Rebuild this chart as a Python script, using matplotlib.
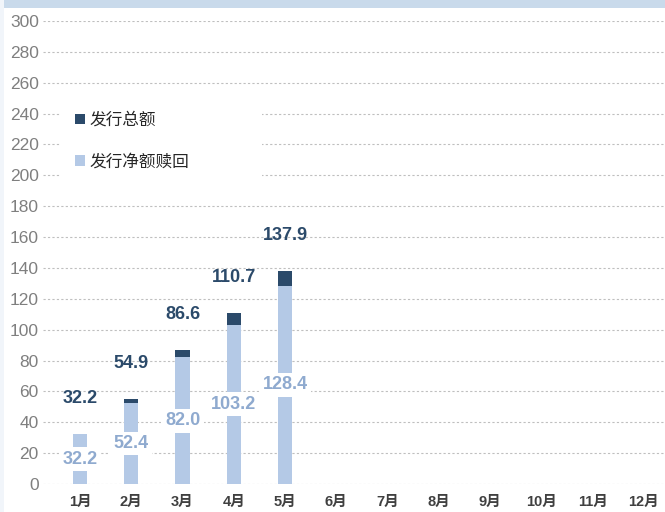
import matplotlib
matplotlib.use("Agg")
import matplotlib.pyplot as plt
from matplotlib.patches import Rectangle, Patch
import numpy as np

months = ["1月", "2月", "3月", "4月", "5月", "6月", "7月", "8月", "9月", "10月", "11月", "12月"]
total = [32.2, 54.9, 86.6, 110.7, 137.9]
net = [32.2, 52.4, 82.0, 103.2, 128.4]
legend_labels = ["发行总额", "发行净额赎回"]
yticks = list(range(0, 301, 20))

dark = "#2B4A6A"
light = "#B4C9E6"
light_txt = "#8FAACF"

fams = ["Liberation Sans", "Noto Sans CJK SC", "DejaVu Sans"]
plt.rcParams["font.family"] = fams

fig = plt.figure(figsize=(6.65, 5.12), dpi=100)
W, H = 665, 512
ax = fig.add_axes([43 / W, (512 - 484) / H, (665 - 43) / W, (484 - 21) / H])

# decorative bands
fig.patches.append(Rectangle((0, (512 - 8) / H), 1, 8 / H, transform=fig.transFigure,
                             facecolor="#C9DAEB", edgecolor="none", zorder=0))
fig.patches.append(Rectangle((0, 0), 4 / W, 1, transform=fig.transFigure,
                             facecolor="#F1F5FA", edgecolor="none", zorder=0))

x = np.arange(len(total))
bw = 0.28
ax.bar(x, total, width=bw, color=dark, zorder=3)
ax.bar(x, net, width=bw, color=light, zorder=4)

for xi, t, n in zip(x, total, net):
    ax.annotate(f"{t:.1f}", (xi, t), xytext=(0, 26), textcoords="offset points",
                ha="center", va="center", fontsize=13, fontweight="bold", color=dark, zorder=6)
    ax.text(xi, n / 2, f"{n:.1f}", ha="center", va="center", fontsize=13,
            fontweight="bold", color=light_txt, zorder=6,
            bbox=dict(facecolor="white", edgecolor="none", pad=2.5))

ax.set_xlim(-0.722, 11.41)
ax.set_ylim(0, 300)
ax.set_yticks(yticks)
ax.set_xticks(np.arange(len(months)))
ax.set_xticklabels(months, fontsize=10.5, fontweight="bold", color="#404040")
for s in ax.spines.values():
    s.set_visible(False)
ax.tick_params(axis="both", length=0)
ax.tick_params(axis="y", labelsize=12.5, labelcolor="#7F7F7F", pad=3)
ax.tick_params(axis="x", pad=8)
ax.yaxis.grid(True, color="#BFBFBF", linestyle=(0, (2, 2)), linewidth=0.8, zorder=0)
ax.set_axisbelow(True)

# legend white box
ax.add_patch(Rectangle(((60 - 43) / 622, (484 - 178) / 463), (262 - 60) / 622, (178 - 95) / 463,
                       transform=ax.transAxes, facecolor="white", edgecolor="none", zorder=2))
handles = [Patch(facecolor=dark), Patch(facecolor=light)]
leg = ax.legend(handles, legend_labels, loc="upper left",
                bbox_to_anchor=((60 - 43) / 622, (484 - 97) / 463),
                frameon=False, handlelength=0.6, handleheight=0.6, handletextpad=0.25,
                labelspacing=1.45, prop={"family": ["Noto Sans CJK SC"], "size": 12})
for t in leg.get_texts():
    t.set_color("#262626")

fig.savefig("out.png", dpi=100)
